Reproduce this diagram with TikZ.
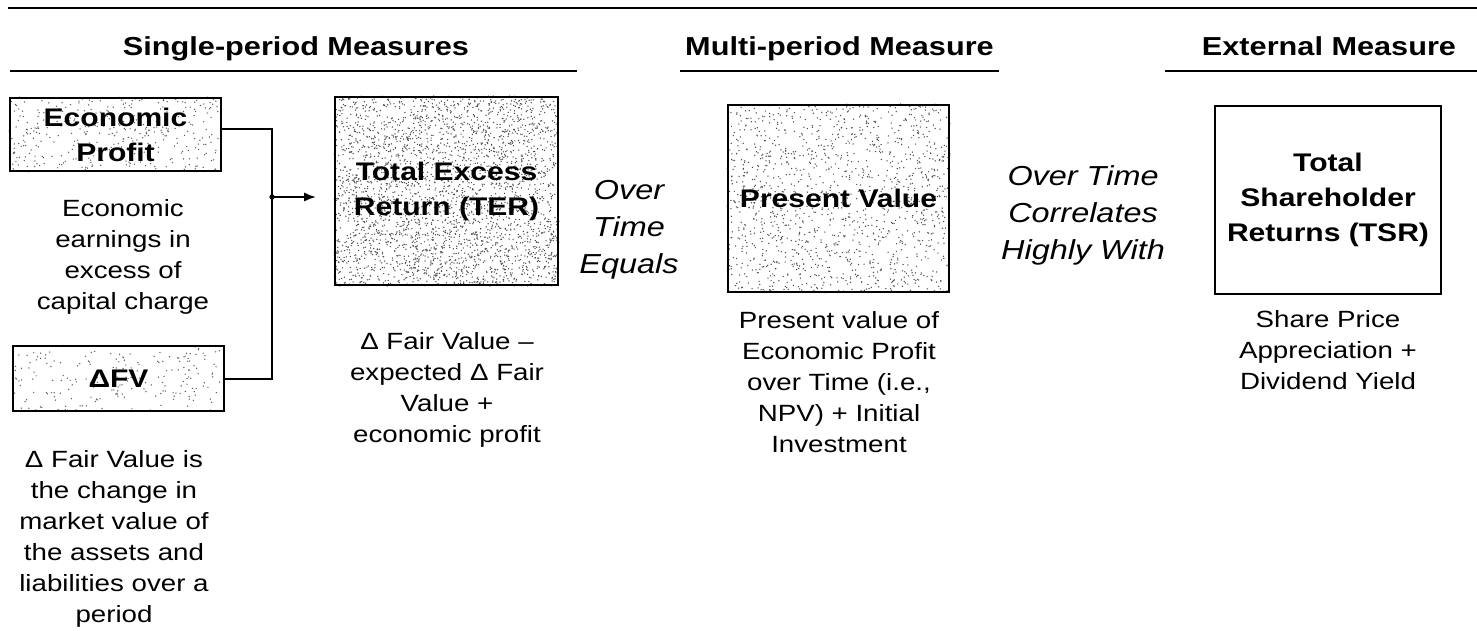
\documentclass[tikz,border=0pt]{standalone}
\usepackage{fontspec}
\setmainfont{Liberation Sans}[FakeStretch=1.18]
\usetikzlibrary{calc,arrows.meta}
\pgfdeclarelayer{background}
\pgfsetlayers{background,main}

% type sizes (1 unit = 0.75pt)
\newcommand\fHdr{\fontsize{19.5pt}{24pt}\selectfont\bfseries}
\newcommand\fBody{\fontsize{17.6pt}{23.25pt}\selectfont}
\newcommand\fBox{\fontsize{19.1pt}{26.25pt}\selectfont\bfseries}
\newcommand\fLink{\fontsize{20.6pt}{27.75pt}\selectfont\itshape}

% random stipple inside a named box: node, number of dots, grey level
\newcommand\speckle[3]{%
  \foreach \k in {1,...,#2}{%
    \fill[black!#3] ($(#1.south west)!rnd!(#1.south east) + (#1.south west)!rnd!(#1.north west) - (#1.south west)$) circle[radius=0.55pt];
  }}

\begin{document}
\begin{tikzpicture}[x=0.75pt, y=-0.75pt,
  rule/.style={line width=1.6pt},
  panel/.style 2 args={draw, line width=1.5pt, minimum width=#1*0.75pt,
    minimum height=#2*0.75pt, inner sep=0pt, align=center, font=\fBox},
  % multi-line texts are placed by the baseline of their last line
  caption/.style={anchor=base, align=center, inner sep=0pt, font=\fBody},
  link/.style={anchor=base, align=center, inner sep=0pt, font=\fLink},
  header/.style={anchor=base, inner sep=0pt, font=\fHdr},
  conn/.style={line width=1.5pt}]
\useasboundingbox (0,0) rectangle (1477,631);

% rules and column headings
\draw[line width=2.2pt] (8,8) -- (1477,8);
\node[header] (h1) at (296,56) {Single-period Measures};
\node[header] (h2) at (839.5,56) {Multi-period Measure};
\node[header] (h3) at (1329,56) {External Measure};
\draw[rule] (10,71) -- (577,71);
\draw[rule] (680,71) -- (999,71);
\draw[rule] (1165,71) -- (1477,71);

% measure boxes
\node[panel={211}{73}] (ep) at (115.5,134.5) {Economic\\Profit};
\node[panel={211}{65}] (dfv) at (118.5,378.5) {ΔFV};
\node[panel={223}{188}] (ter) at (446.5,191) {Total Excess\\Return (TER)};
\node[panel={221}{187}] (pv) at (838.5,198.5) {Present Value};
\node[panel={226}{188}] (tsr) at (1328,200) {Total\\Shareholder\\Returns (TSR)};

% descriptions
\node[caption] (epd) at (123,309) {Economic\\earnings in\\excess of\\capital charge};
\node[caption] (dfvd) at (114,622) {Δ Fair Value is\\the change in\\market value of\\the assets and\\liabilities over a\\period};
\node[caption] (terd) at (447,442) {Δ Fair Value –\\expected Δ Fair\\Value +\\economic profit};
\node[caption] (pvd) at (839,452) {Present value of\\Economic Profit\\over Time (i.e.,\\NPV) + Initial\\Investment};
\node[caption] (tsrd) at (1328,389) {Share Price\\Appreciation +\\Dividend Yield};

% relations between columns
\node[link] (eq) at (629,273) {Over\\Time\\Equals};
\node[link] (corr) at (1083,259) {Over Time\\Correlates\\Highly With};

% connector into TER
\coordinate (j) at (272,197);
\draw[conn] ([yshift=4pt]ep.east) -| (j) |- (dfv.east);
\draw[conn, -{Latex[length=9pt,width=7pt]}, shorten >=13.5pt] (j) -- (j -| ter.west);
\fill (j) circle[radius=2pt];

% stippled box fills
\begin{pgfonlayer}{background}
\pgfmathsetseed{2718}
\speckle{ter}{3000}{70}
\speckle{pv}{1400}{70}
\speckle{ep}{380}{65}
\speckle{dfv}{220}{65}
\end{pgfonlayer}
\end{tikzpicture}
\end{document}
